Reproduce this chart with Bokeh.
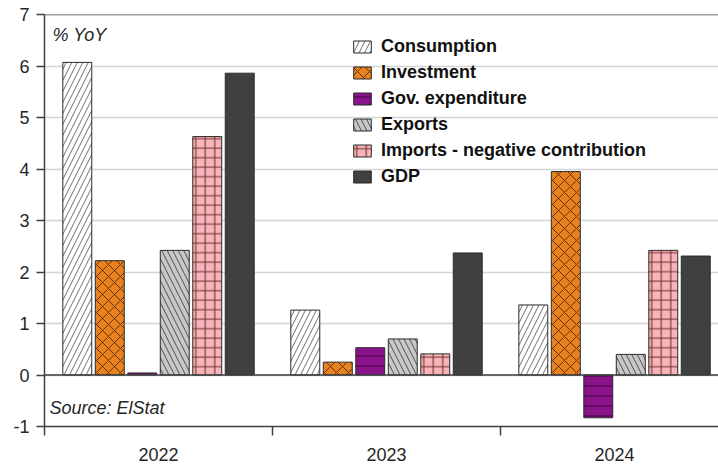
from bokeh.plotting import figure
from bokeh.models import (Range1d, FixedTicker, Span, Label, Legend, LegendItem,
                          ColumnDataSource)
from bokeh.transform import dodge
from bokeh.embed import file_html
from bokeh.resources import INLINE

# ---- data ----
years = ["2022", "2023", "2024"]
series = ["Consumption", "Investment", "Gov. expenditure", "Exports",
          "Imports - negative contribution", "GDP"]
consumption = [6.07, 1.26, 1.36]
investment = [2.22, 0.25, 3.95]
gov_expenditure = [0.04, 0.53, -0.83]
exports = [2.42, 0.70, 0.40]
imports_neg = [4.63, 0.41, 2.42]
gdp = [5.86, 2.37, 2.31]
y_ticks = [-1, 0, 1, 2, 3, 4, 5, 6, 7]
y_tick_labels = ["-1", "0", "1", "2", "3", "4", "5", "6", "7"]

# ---- styles ----
styles = [
    dict(fill_color="white", hatch_pattern="/", hatch_color="#6e6e6e", hatch_scale=11),
    dict(fill_color="#E8821E", hatch_pattern="x", hatch_color="#6a3208", hatch_scale=12),
    dict(fill_color="#8A138A", hatch_pattern="-", hatch_color="#3e063e", hatch_scale=10),
    dict(fill_color="#C8C8C8", hatch_pattern="\\", hatch_color="#505050", hatch_scale=11),
    dict(fill_color="#F7B5BA", hatch_pattern="+", hatch_color="#6b2626", hatch_scale=9.5),
    dict(fill_color="#404040", hatch_pattern=None, hatch_color=None, hatch_scale=8),
]

FONT = "Liberation Sans"

p = figure(width=718, height=464, output_backend="svg", toolbar_location=None,
           x_range=Range1d(0, 2.956), y_range=Range1d(-1, 7))
p.min_border_left = 44
p.min_border_right = 0
p.min_border_top = 14
p.min_border_bottom = 38
p.outline_line_color = None
p.background_fill_color = "white"
p.border_fill_color = "white"

idx = [i + 0.5 for i in range(len(years))]
src = ColumnDataSource(dict(x=idx, year=years, c=consumption, i=investment,
                            g=gov_expenditure, e=exports, m=imports_neg, gdp=gdp))
cols = ["c", "i", "g", "e", "m", "gdp"]

step = 0.1425
bw = 0.127
renderers = []
for k, (col, st) in enumerate(zip(cols, styles)):
    off = (k - 2.5) * step
    kw = dict(fill_color=st["fill_color"], line_color="#2b2b2b", line_width=1)
    if st["hatch_pattern"]:
        kw.update(hatch_pattern=st["hatch_pattern"], hatch_color=st["hatch_color"],
                  hatch_scale=st["hatch_scale"], hatch_weight=1)
    r = p.vbar(x=dodge("x", off, range=p.x_range), top=col, bottom=0, width=bw,
               source=src, **kw)
    renderers.append(r)

# grid
p.xgrid.visible = False
p.ygrid.ticker = FixedTicker(ticks=y_ticks)
p.ygrid.grid_line_color = "#d4d4d4"
p.ygrid.grid_line_width = 1.5

# zero line and top border
p.add_layout(Span(location=0, dimension="width", line_color="#404040", line_width=1.5))
p.add_layout(Span(location=7, dimension="width", line_color="#404040", line_width=1.5))

# y axis
p.yaxis.ticker = FixedTicker(ticks=y_ticks)
p.yaxis.major_label_overrides = {t: s for t, s in zip(y_ticks, y_tick_labels)}
p.yaxis.axis_line_color = "#404040"
p.yaxis.axis_line_width = 1.5
p.yaxis.major_tick_line_color = "#404040"
p.yaxis.major_tick_line_width = 1.5
p.yaxis.major_tick_out = 8
p.yaxis.major_tick_in = 0
p.yaxis.minor_tick_line_color = None
p.yaxis.major_label_text_font = FONT
p.yaxis.major_label_text_font_size = "18px"
p.yaxis.major_label_text_color = "#262626"
p.yaxis.major_label_standoff = 7

# x axis
p.xaxis.ticker = FixedTicker(ticks=idx, minor_ticks=[0, 1, 2, 3])
p.xaxis.major_label_overrides = {v: y for v, y in zip(idx, years)}
p.xaxis.axis_line_color = "#404040"
p.xaxis.axis_line_width = 1.5
p.xaxis.major_tick_line_color = None
p.xaxis.major_tick_out = 0
p.xaxis.major_tick_in = 0
p.xaxis.minor_tick_line_color = "#404040"
p.xaxis.minor_tick_line_width = 1.5
p.xaxis.minor_tick_out = 9
p.xaxis.minor_tick_in = 0
p.xaxis.major_label_text_font = FONT
p.xaxis.major_label_text_font_size = "18px"
p.xaxis.major_label_text_color = "#262626"
p.xaxis.major_label_standoff = 12

# legend
legend = Legend(items=[LegendItem(label=s, renderers=[r]) for s, r in zip(series, renderers)],
                location=(307, 239))
legend.background_fill_alpha = 0
legend.border_line_color = None
legend.padding = 0
legend.margin = 0
legend.spacing = 5
legend.glyph_width = 22
legend.glyph_height = 15
legend.label_height = 20
legend.label_standoff = 8
legend.label_text_font = FONT
legend.label_text_font_style = "bold"
legend.label_text_font_size = "18px"
legend.label_text_color = "#111111"
p.add_layout(legend)

# annotations
p.add_layout(Label(x=0.035, y=6.61, text="% YoY", text_font=FONT, text_font_size="18px",
                   text_font_style="italic", text_color="#262626", text_baseline="middle",
                   background_fill_color="white"))
p.add_layout(Label(x=0.022, y=-0.646, text="Source: ElStat", text_font=FONT,
                   text_font_size="18px", text_font_style="italic", text_color="#262626",
                   text_baseline="middle", background_fill_color="white"))

open("out.html", "w").write(file_html(p, INLINE))
